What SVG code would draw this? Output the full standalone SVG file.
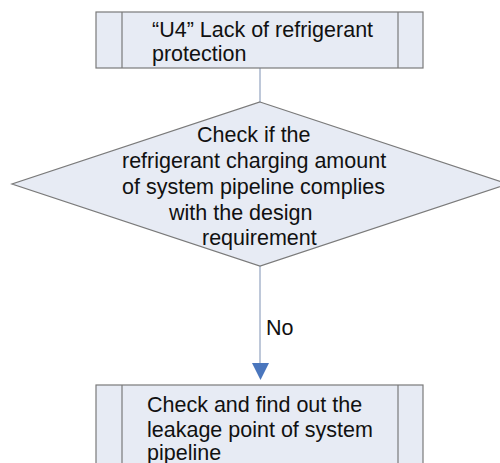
<svg xmlns="http://www.w3.org/2000/svg" width="500" height="463" viewBox="0 0 500 463">
<style>
.box{fill:#e7ebf4;stroke:#7a7a7a;stroke-width:1.2}
.div{stroke:#7a7a7a;stroke-width:1.2}
.t{font-family:"Liberation Sans",Arial,sans-serif;font-size:21.5px;fill:#111}
.conn{stroke:#a8b6cc;stroke-width:1.5;fill:none}
.head{fill:#4a76bd}
</style>
<rect width="500" height="463" fill="#ffffff"/>
<g id="connectors">
<line class="conn" x1="260" y1="68" x2="260" y2="102"/>
<line class="conn" x1="260" y1="266" x2="260" y2="366"/>
<path class="head" d="M252,363 L269,363 L260.5,380 Z"/>
<text class="t" x="266" y="335">No</text>
</g>
<g id="n1">
<rect class="box" x="96" y="12" width="327" height="56"/>
<line class="div" x1="122" y1="12" x2="122" y2="68"/>
<line class="div" x1="398" y1="12" x2="398" y2="68"/>
<text class="t" x="152" y="36.5">“U4” Lack of refrigerant</text>
<text class="t" x="152" y="61">protection</text>
</g>
<g id="n2">
<polygon class="box" points="260,102 508,184 260,266 12,184"/>
<text class="t" x="197" y="141.5">Check if the</text>
<text class="t" x="122" y="167.5">refrigerant charging amount</text>
<text class="t" x="122" y="193.5">of system pipeline complies</text>
<text class="t" x="169" y="219.5">with the design</text>
<text class="t" x="202" y="245">requirement</text>
</g>
<g id="n3">
<rect class="box" x="96" y="385" width="327" height="100"/>
<line class="div" x1="122" y1="385" x2="122" y2="485"/>
<line class="div" x1="398" y1="385" x2="398" y2="485"/>
<text class="t" x="147" y="412">Check and find out the</text>
<text class="t" x="147" y="436.5">leakage point of system</text>
<text class="t" x="147" y="460">pipeline</text>
</g>
</svg>
